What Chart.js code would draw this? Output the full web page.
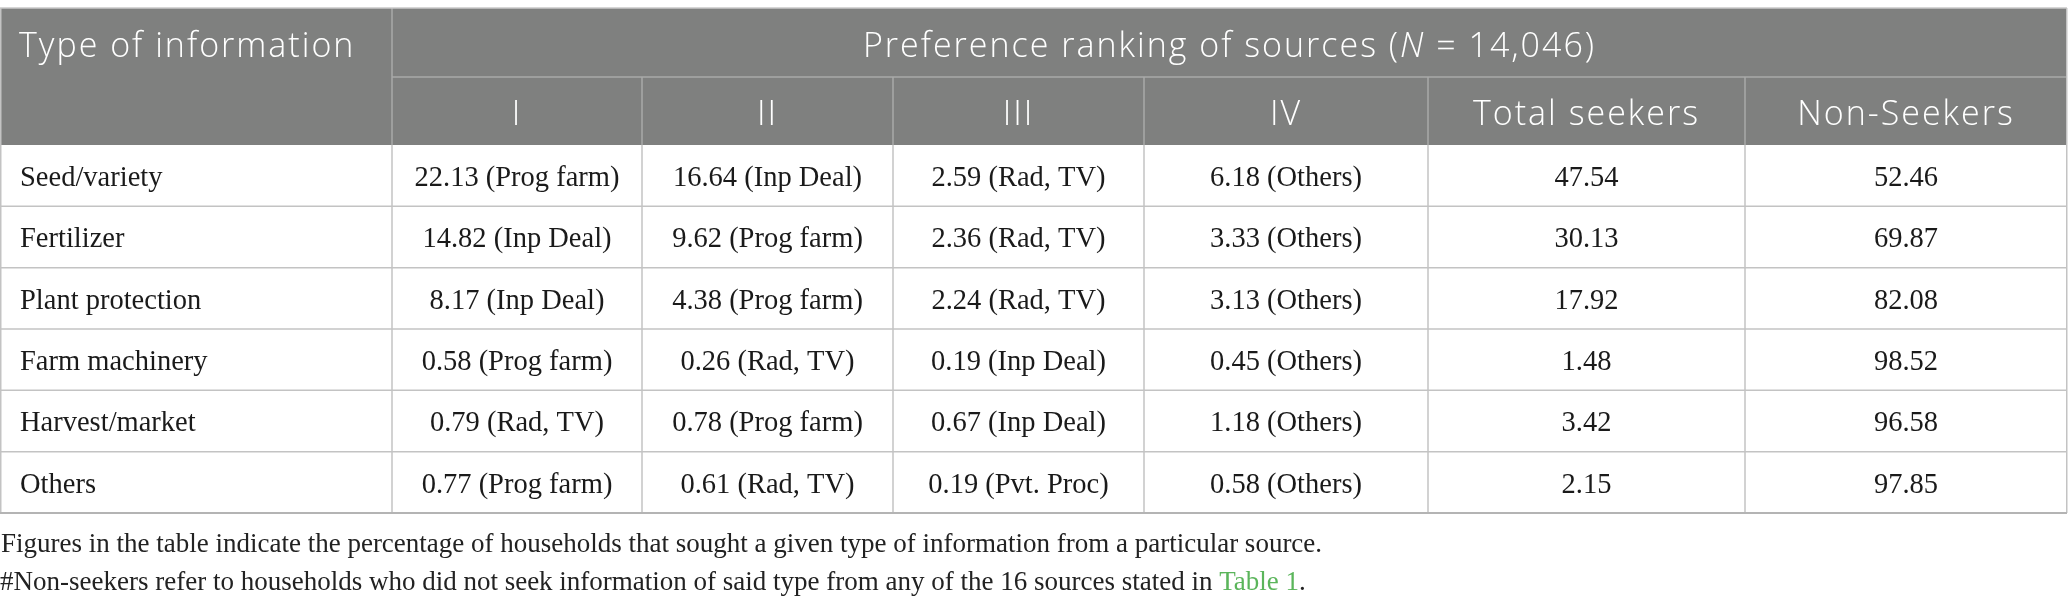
<!DOCTYPE html>
<html>
<head>
<meta charset="utf-8">
<script src="https://cdn.jsdelivr.net/npm/chart.js@4.4.1/dist/chart.umd.min.js"></script>
<style>
html,body{margin:0;padding:0;background:#fff;overflow:hidden;}
canvas{display:block;}
</style>
</head>
<body>
<canvas id="c" width="2068" height="607"></canvas>
<script>
// ---------- data ----------
const columnHeaders = ['Type of information', 'I', 'II', 'III', 'IV', 'Total seekers', 'Non-Seekers'];
const spanHeader = 'Preference ranking of sources';
const sampleSize = '14,046';
const categories = ['Seed/variety', 'Fertilizer', 'Plant protection', 'Farm machinery', 'Harvest/market', 'Others'];
const rank1Values = [22.13, 14.82, 8.17, 0.58, 0.79, 0.77];
const rank1Sources = ['Prog farm', 'Inp Deal', 'Inp Deal', 'Prog farm', 'Rad, TV', 'Prog farm'];
const rank2Values = [16.64, 9.62, 4.38, 0.26, 0.78, 0.61];
const rank2Sources = ['Inp Deal', 'Prog farm', 'Prog farm', 'Rad, TV', 'Prog farm', 'Rad, TV'];
const rank3Values = [2.59, 2.36, 2.24, 0.19, 0.67, 0.19];
const rank3Sources = ['Rad, TV', 'Rad, TV', 'Rad, TV', 'Inp Deal', 'Inp Deal', 'Pvt. Proc'];
const rank4Values = [6.18, 3.33, 3.13, 0.45, 1.18, 0.58];
const rank4Sources = ['Others', 'Others', 'Others', 'Others', 'Others', 'Others'];
const totalSeekers = [47.54, 30.13, 17.92, 1.48, 3.42, 2.15];
const nonSeekers = [52.46, 69.87, 82.08, 98.52, 96.58, 97.85];
const footnote1 = 'Figures in the table indicate the percentage of households that sought a given type of information from a particular source.';
const footnote2 = '#Non-seekers refer to households who did not seek information of said type from any of the 16 sources stated in ';
const footnote2Link = 'Table 1';

// ---------- layout (not data) ----------
const colWidths = [392, 250, 251, 251, 284, 317, 322];
const rowHeights = [69, 68, 61.33, 61.33, 61.33, 61.33, 61.33, 61.35];
const headerBg = '#7f807f';
const headerLine = '#a9aaa9';
const gridLine = '#c3c3c3';
const bodyFont = '28.5px "Liberation Serif", serif';
const noteFont = '27px "Liberation Serif", serif';
const headFont = '300 34px "Open Sans", Lato, sans-serif';
const headSpacing = '2px';

const colEdges = [0]; colWidths.forEach(w => colEdges.push(colEdges[colEdges.length - 1] + w));
const rowEdges = [0]; rowHeights.forEach(h => rowEdges.push(rowEdges[rowEdges.length - 1] + h));
const tableW = colEdges[colEdges.length - 1];
const tableH = rowEdges[rowEdges.length - 1];

const fmt = v => v.toFixed(2);
function cellTexts(i) {
  return [
    categories[i],
    fmt(rank1Values[i]) + ' (' + rank1Sources[i] + ')',
    fmt(rank2Values[i]) + ' (' + rank2Sources[i] + ')',
    fmt(rank3Values[i]) + ' (' + rank3Sources[i] + ')',
    fmt(rank4Values[i]) + ' (' + rank4Sources[i] + ')',
    fmt(totalSeekers[i]),
    fmt(nonSeekers[i])
  ];
}

const tablePlugin = {
  id: 'tablePlugin',
  afterDraw(chart) {
    const ctx = chart.ctx, xs = chart.scales.x, ys = chart.scales.y;
    const X = v => xs.getPixelForValue(v);
    const Y = v => ys.getPixelForValue(v);
    ctx.save();
    // header background
    ctx.fillStyle = headerBg;
    ctx.fillRect(X(0), Y(0), X(tableW) - X(0), Y(rowEdges[2]) - Y(0));

    function line(x1, y1, x2, y2, color, w) {
      ctx.strokeStyle = color; ctx.lineWidth = w;
      ctx.beginPath(); ctx.moveTo(x1, y1); ctx.lineTo(x2, y2); ctx.stroke();
    }
    // header lines
    line(X(colEdges[1]), Y(0), X(colEdges[1]), Y(rowEdges[2]), headerLine, 1.5);
    line(X(colEdges[1]), Y(rowEdges[1]), X(tableW), Y(rowEdges[1]), headerLine, 1.5);
    for (let c = 2; c < colEdges.length - 1; c++) {
      line(X(colEdges[c]), Y(rowEdges[1]), X(colEdges[c]), Y(rowEdges[2]), headerLine, 1.5);
    }
    // body grid
    for (let r = 3; r < rowEdges.length - 1; r++) {
      line(X(0), Y(rowEdges[r]), X(tableW), Y(rowEdges[r]), gridLine, 1.5);
    }
    for (let c = 1; c < colEdges.length - 1; c++) {
      line(X(colEdges[c]), Y(rowEdges[2]), X(colEdges[c]), Y(tableH), gridLine, 1.5);
    }
    // outer border
    line(X(0), Y(0), X(tableW), Y(0), '#c8c8c8', 1.5);
    line(X(0) + 0.75, Y(0), X(0) + 0.75, Y(tableH), gridLine, 1.5);
    line(X(tableW) - 0.25, Y(0), X(tableW) - 0.25, Y(tableH), gridLine, 1.5);
    line(X(0), Y(tableH), X(tableW), Y(tableH), '#b4b4b4', 2);

    // header text
    ctx.fillStyle = '#ffffff';
    ctx.font = headFont;
    ctx.letterSpacing = headSpacing;
    ctx.textBaseline = 'alphabetic';
    ctx.textAlign = 'left';
    ctx.fillText(columnHeaders[0], X(0) + 19, Y((rowEdges[0] + rowEdges[1]) / 2) + 14.5);
    // spanning header with italic N
    const p1 = spanHeader + ' (', p2 = 'N', p3 = ' = ' + sampleSize + ')';
    const italicFont = 'italic ' + headFont;
    ctx.font = headFont; const w1 = ctx.measureText(p1).width, w3 = ctx.measureText(p3).width;
    ctx.font = italicFont; const w2 = ctx.measureText(p2).width;
    const cx = (X(colEdges[1]) + X(tableW)) / 2;
    let sx = cx - (w1 + w2 + w3) / 2;
    const by = Y((rowEdges[0] + rowEdges[1]) / 2) + 14.5;
    ctx.font = headFont; ctx.fillText(p1, sx, by); sx += w1;
    ctx.font = italicFont; ctx.fillText(p2, sx, by); sx += w2;
    ctx.font = headFont; ctx.fillText(p3, sx, by);
    ctx.textAlign = 'center';
    for (let c = 1; c < columnHeaders.length; c++) {
      ctx.fillText(columnHeaders[c], X((colEdges[c] + colEdges[c + 1]) / 2), Y((rowEdges[1] + rowEdges[2]) / 2) + 14);
    }
    ctx.letterSpacing = '0px';

    // body text
    ctx.fillStyle = '#1a1a1a';
    ctx.font = bodyFont;
    for (let i = 0; i < categories.length; i++) {
      const texts = cellTexts(i);
      const yy = Y((rowEdges[i + 2] + rowEdges[i + 3]) / 2) + 10.5;
      texts.forEach((t, c) => {
        if (c === 0) { ctx.textAlign = 'left'; ctx.fillText(t, X(0) + 20, yy); }
        else { ctx.textAlign = 'center'; ctx.fillText(t, X((colEdges[c] + colEdges[c + 1]) / 2), yy); }
      });
    }

    // footnotes
    ctx.textAlign = 'left';
    ctx.fillStyle = '#222222';
    ctx.font = noteFont;
    ctx.fillText(footnote1, X(0) + 1, Y(tableH) + 39);
    ctx.fillText(footnote2, X(0), Y(tableH) + 77);
    const fw = ctx.measureText(footnote2).width;
    ctx.fillStyle = '#5bb55b';
    ctx.fillText(footnote2Link, X(0) + fw, Y(tableH) + 77);
    const lw = ctx.measureText(footnote2Link).width;
    ctx.fillStyle = '#222222';
    ctx.fillText('.', X(0) + fw + lw, Y(tableH) + 77);
    ctx.restore();
  }
};

new Chart(document.getElementById('c'), {
  type: 'scatter',
  data: { datasets: [{ data: [] }] },
  options: {
    responsive: false,
    animation: false,
    devicePixelRatio: 1,
    layout: { padding: { left: 0, right: 1, top: 8, bottom: 607 - 8 - tableH } },
    plugins: { legend: { display: false }, tooltip: { enabled: false } },
    scales: {
      x: { type: 'linear', display: false, offset: false, min: 0, max: tableW },
      y: { type: 'linear', display: false, offset: false, min: 0, max: tableH, reverse: true }
    }
  },
  plugins: [tablePlugin]
});
</script>
</body>
</html>
